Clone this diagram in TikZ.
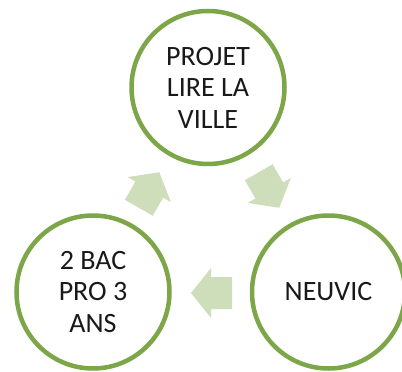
\documentclass[tikz,border=0pt]{standalone}
\usepackage{fontspec}
\setmainfont{Carlito}
\definecolor{ringgreen}{HTML}{7DA649}
\definecolor{arrowgreen}{HTML}{CEDDBA}
\begin{document}
\begin{tikzpicture}[x=1pt,y=-1pt,
  ring/.style={circle,draw=ringgreen,line width=4.5pt,fill=white,minimum size=153pt,inner sep=0pt,align=center,
    font=\fontsize{28}{31.5}\selectfont,text=black!90},
  blockarrow/.style={fill=arrowgreen,draw=none}]
\useasboundingbox (0,0) rectangle (402,372);
\node[ring] (top) at (208,87.5) {PROJET\\LIRE LA\\VILLE};
\node[ring] (left) at (93,292) {2 BAC\\PRO 3\\ANS};
\node[ring] (right) at (328.5,292) {NEUVIC};
\foreach \name/\cx/\cy/\ang in {a1/149/190/60, a2/269/190/-60, a3/211.5/293/180}{
  \begin{scope}[shift={(\cx,\cy)},rotate=\ang]
    \fill[blockarrow] (20.5,0) -- (0.5,25) -- (0.5,16) -- (-20.5,16) -- (-20.5,-16) -- (0.5,-16) -- (0.5,-25) -- cycle;
  \end{scope}
}
\end{tikzpicture}
\end{document}
